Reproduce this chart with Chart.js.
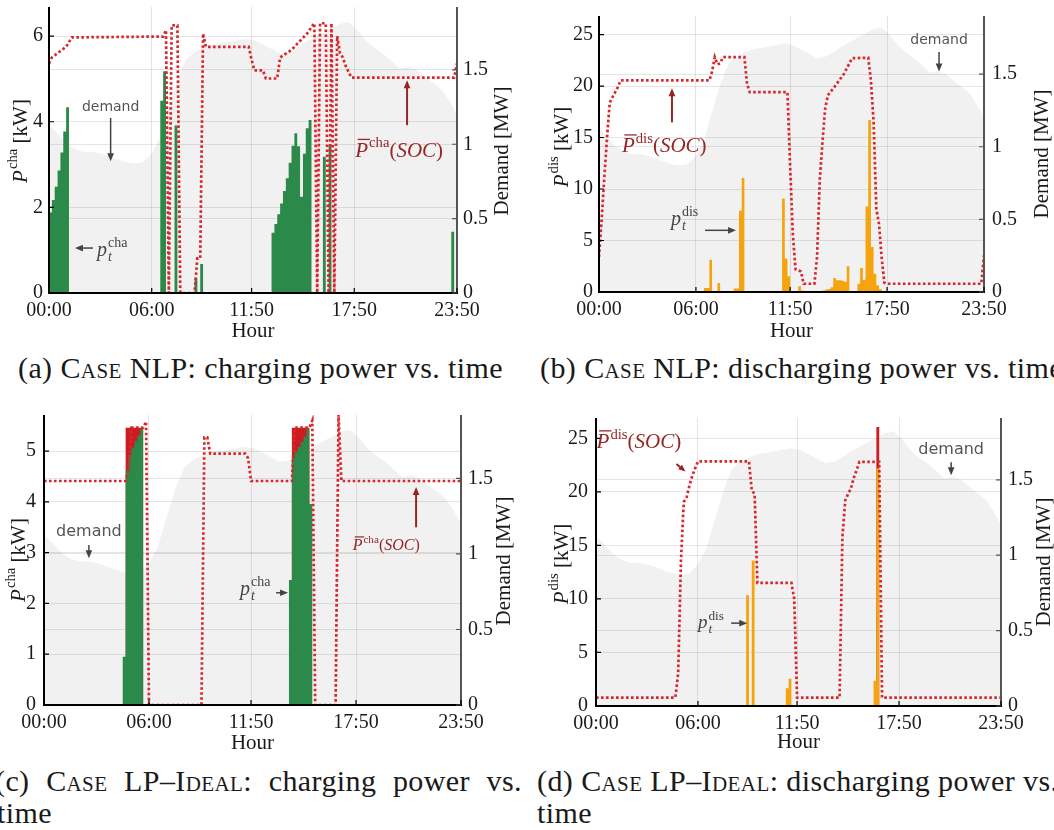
<!DOCTYPE html>
<html>
<head>
<meta charset="utf-8">
<title>Charging and discharging power vs. time</title>
<script src="https://cdn.jsdelivr.net/npm/chart.js@4.4.1/dist/chart.umd.min.js"></script>
<style>
  html, body { margin: 0; padding: 0; background: #fff; }
  body { position: relative; width: 1054px; height: 830px; overflow: hidden;
         font-family: "Liberation Serif", "Times New Roman", serif; color: #1a1a1a; }
  canvas { position: absolute; }
  .cap { position: absolute; font-size: 30px; line-height: 30px; white-space: nowrap; }
  .sc { font-variant: small-caps; }
  .just { text-align: justify; text-align-last: justify; white-space: normal; }
</style>
</head>
<body>
<canvas id="chartA" width="520" height="345" style="left:0;top:0"></canvas>
<canvas id="chartB" width="534" height="345" style="left:520px;top:0"></canvas>
<canvas id="chartC" width="520" height="360" style="left:0;top:400px"></canvas>
<canvas id="chartD" width="534" height="360" style="left:520px;top:400px"></canvas>

<div class="cap" id="capA" style="left:18px;top:353px">(a) <span class="sc">Case</span> NLP: charging power vs. time</div>
<div class="cap" style="left:540px;top:353px">(b) <span class="sc">Case</span> NLP: discharging power vs. time</div>
<div class="cap just" id="capC" style="left:-5px;top:766px;width:527px">(c) <span class="sc">Case</span> LP–<span class="sc">Ideal</span>: charging power vs.</div>
<div class="cap" style="left:-3px;top:798px">time</div>
<div class="cap" style="left:537px;top:766px">(d) <span class="sc">Case</span> LP–<span class="sc">Ideal</span>: discharging power vs.</div>
<div class="cap" style="left:537px;top:798px">time</div>

<script>
// ---------- shared axes (one step = 10 minutes, step 0 = 00:00) ----------
const hourTicks  = [0, 36, 71, 107, 143];
const hourLabels = ['00:00', '06:00', '11:50', '17:50', '23:50'];
const demandTicks  = [0, 0.5, 1, 1.5];
const demandLabels = ['0', '0.5', '1', '1.5'];
const chaTicksNLP = [0, 2, 4, 6];
const disTicks    = [0, 5, 10, 15, 20, 25];
const chaTicksLP  = [0, 1, 2, 3, 4, 5];

// grid demand [step, MW]
const demand = [[0,1.13],[3,1.07],[6,1.01],[9,0.97],[12,0.95],[15,0.95],[18,0.94],[21,0.92],
  [24,0.90],[27,0.88],[30,0.87],[33,0.88],[36,0.94],[39,1.05],[42,1.24],[45,1.43],[48,1.57],
  [51,1.62],[54,1.65],[57,1.67],[60,1.68],[63,1.69],[66,1.70],[69,1.71],[72,1.70],[75,1.67],
  [78,1.64],[81,1.61],[84,1.62],[87,1.65],[90,1.69],[93,1.72],[96,1.75],[99,1.78],[102,1.81],
  [105,1.82],[108,1.77],[111,1.70],[114,1.65],[117,1.61],[120,1.56],[123,1.51],[126,1.52],
  [129,1.50],[132,1.45],[135,1.41],[138,1.36],[141,1.27],[143,1.20]];

// power runs: [first step, consecutive kW values]; all other steps are zero
const chaNLP = [
  [0, [1.64, 1.88, 2.17, 2.48, 2.86, 3.28, 3.77, 4.34]],
  [40, [4.49, 5.18]],
  [45, [3.91]],
  [52, [0.34]],
  [54, [0.68]],
  [79, [1.41, 1.61, 1.84, 2.09, 2.38, 2.68, 3.04, 3.44, 3.73, 3.43, 2.25, 3.25, 3.85, 4.04]],
  [97, [3.18]],
  [99, [3.46]],
  [142, [1.43]]
];
// P̄cha(SOC) limit [step, kW]
const chaLimitNLP = [[0,5.36],[1,5.5],[6,5.75],[8,5.97],[40,5.99],[41,6.14],[42,0],[43,6.25],
  [45,6.25],[46,0],[51,0],[52,0.81],[53,0.81],[54,6.06],[55,5.75],[70,5.75],[71,5.45],[72,5.2],
  [75,5.2],[76,5.01],[80,5.01],[81,5.5],[85,5.68],[91,6.1],[92,6.22],[93,6.3],[94,0],[95,6.3],
  [97,6.3],[98,0],[99,6.3],[100,0],[101,6.0],[102,5.6],[103,5.5],[104,5.3],[106,5.03],
  [142,5.03],[143,5.36]];

const disNLP = [
  [4, [0.1, 0.1, 0.1, 0.1]],
  [40, [0.4, 0.4, 3.14]],
  [45, [0.87]],
  [51, [0.33, 0.33, 7.9, 11.07]],
  [69, [9.07, 3.24, 1.52]],
  [75, [0.55, 0.15]],
  [81, [0.05, 0.1, 0.1, 0.15, 0.25, 0.3, 0.45, 1.36, 1.14, 1.14, 1.1, 1.0, 2.5]],
  [97, [0.8, 2.33, 1.2, 8.3, 16.7, 4.37, 1.78, 0.65, 0.26]]
];
const disLimitNLP = [[0,3.4],[1,7.1],[2,11.2],[3,15.05],[4,18.4],[6,19.4],[7,19.9],[8,20.55],
  [41,20.55],[42,21.4],[43,22.8],[44,22.1],[45,22.2],[46,22.8],[54,22.8],[55,20.2],[56,19.4],
  [70,19.4],[71,12.1],[72,5.6],[73,2.2],[75,2.0],[76,0.8],[80,0.8],[81,3.4],[82,10.85],
  [83,14.6],[84,17.8],[85,19.1],[88,20.1],[91,21.2],[93,22.2],[94,22.7],[100,22.75],
  [101,20.55],[102,16.5],[103,8.1],[104,6.6],[105,3.3],[106,0.9],[107,0.8],[142,0.8],[143,3.56]];

const chaLP = [
  [28, [0.95, 4.62, 4.92, 5.07, 5.2, 5.31, 5.43]],
  [85, [2.46, 4.86, 4.99, 5.08, 5.18, 5.28, 5.43, 3.96]]
];
const chaCapLP = [
  [29, [5.46, 5.46, 5.46, 5.46, 5.46, 5.46]],
  [86, [5.46, 5.46, 5.46, 5.46, 5.46, 5.46]]
];
const chaLimitLP = [[0,4.41],[28,4.41],[29,4.63],[30,5.46],[34,5.46],[35,5.58],[36,0],[54,0],
  [55,5.27],[56,5.27],[57,4.95],[69,4.95],[70,4.86],[71,4.41],[85,4.41],[86,5.46],[91,5.46],
  [92,5.6],[93,0],[100,0],[101,5.72],[102,4.41],[143,4.41]];

const disLP = [
  [54, [10.35]],
  [56, [13.6]],
  [68, [1.65, 2.55]],
  [99, [2.35, 22.2]]
];
const disCapLP = [
  [100, [26.05]]
];
const disLimitLP = [[0,0.78],[28,0.78],[29,3.0],[30,13.6],[31,19.06],[32,19.5],[33,20.6],
  [34,21.5],[35,22.2],[36,22.85],[54,22.85],[55,20.15],[56,19.8],[57,11.5],[69,11.5],[70,10.0],
  [71,0.78],[86,0.78],[87,15.8],[88,19.2],[89,19.8],[90,20.3],[91,21.3],[92,22.0],[93,22.8],
  [100,22.8],[101,0.78],[143,0.78]];

// ---------- styling ----------
const SERIF = '"Liberation Serif", "Times New Roman", serif';
const SANS = '"DejaVu Sans", sans-serif';
const GREY = '#444';
const WINE = '#962626';
const GREEN = '#2b8a4a';
const ORANGE = '#f5a30f';
const LIMIT_RED = '#d9262c';
const CAP_RED = '#cc1c22';
const GRID = 'rgba(0,0,0,0.1)';

const steps = (runs) => {
  const y = new Array(144).fill(0);
  runs.forEach(([start, vals]) => vals.forEach((v, k) => { y[start + k] = v; }));
  return y.map((v, i) => ({ x: i, y: v }));
};
const pairs = (list) => list.map(([x, y]) => ({ x, y }));

// italic base letter with optional bar, superscript, subscript and trailing runs
function mathText(ctx, x, y, m, dry) {
  const s = m.size;
  const it = (px) => `italic ${px}px ${SERIF}`;
  const rm = (px) => `${px}px ${SERIF}`;
  ctx.textAlign = 'left';
  ctx.textBaseline = 'alphabetic';
  ctx.fillStyle = m.color || '#1a1a1a';
  let cx = x;
  ctx.font = it(s);
  const bw = ctx.measureText(m.base).width;
  if (!dry) {
    ctx.fillText(m.base, cx, y);
    if (m.bar) ctx.fillRect(cx + s * 0.12, y - s * 0.86, bw - s * 0.02, Math.max(1.2, s * 0.06));
  }
  cx += bw + s * 0.05;
  let adv = 0;
  if (m.sup) {
    ctx.font = rm(s * 0.7);
    if (!dry) ctx.fillText(m.sup, cx, y - s * 0.45);
    adv = ctx.measureText(m.sup).width;
  }
  if (m.sub) {
    ctx.font = it(s * 0.7);
    if (!dry) ctx.fillText(m.sub, cx, y + s * 0.25);
    adv = Math.max(adv, ctx.measureText(m.sub).width);
  }
  cx += adv;
  (m.tail || []).forEach(([txt, italic]) => {
    ctx.font = italic ? it(s) : rm(s);
    if (!dry) ctx.fillText(txt, cx, y);
    cx += ctx.measureText(txt).width;
  });
  return cx - x;
}

function arrow(ctx, x1, y1, x2, y2, color, lw, head) {
  const ang = Math.atan2(y2 - y1, x2 - x1);
  const c = Math.cos(ang), s = Math.sin(ang);
  ctx.strokeStyle = color;
  ctx.fillStyle = color;
  ctx.lineWidth = lw;
  ctx.beginPath();
  ctx.moveTo(x1, y1);
  ctx.lineTo(x2 - c * head * 0.8, y2 - s * head * 0.8);
  ctx.stroke();
  ctx.beginPath();
  ctx.moveTo(x2, y2);
  ctx.lineTo(x2 - head * c + head * 0.42 * s, y2 - head * s - head * 0.42 * c);
  ctx.lineTo(x2 - head * c - head * 0.42 * s, y2 - head * s + head * 0.42 * c);
  ctx.closePath();
  ctx.fill();
}

// spines, inward ticks, axis titles and the labels with arrows
const decorations = {
  id: 'decorations',
  afterDraw(chart, args, o) {
    const { ctx, chartArea: a } = chart;
    const sx = chart.scales.x, sy = chart.scales.y, sr = chart.scales.y1;
    const px = (v) => sx.getPixelForValue(v);
    const py = (v) => sy.getPixelForValue(v);
    ctx.save();

    ctx.fillStyle = '#555';
    ctx.fillRect(a.right - 1, a.top, 2, a.bottom - a.top);
    ctx.fillStyle = '#000';
    ctx.fillRect(a.left - 1, a.top, 2, a.bottom - a.top + 1);
    ctx.fillRect(a.left - 1, a.bottom - 1, a.right - a.left + 2, 2);

    ctx.lineWidth = 1.2;
    ctx.strokeStyle = '#000';
    ctx.beginPath();
    hourTicks.forEach((v) => { ctx.moveTo(px(v), a.bottom); ctx.lineTo(px(v), a.bottom - 5); });
    sy.ticks.forEach((t) => { ctx.moveTo(a.left, py(t.value)); ctx.lineTo(a.left + 5, py(t.value)); });
    ctx.stroke();
    ctx.strokeStyle = '#555';
    ctx.beginPath();
    sr.ticks.forEach((t) => {
      const yy = sr.getPixelForValue(t.value);
      ctx.moveTo(a.right, yy); ctx.lineTo(a.right - 5, yy);
    });
    ctx.stroke();

    // axis titles
    const lt = o.leftTitle;
    const w = mathText(ctx, 0, 0, lt.m, true);
    ctx.save();
    ctx.translate(lt.cx, lt.cy);
    ctx.rotate(-Math.PI / 2);
    mathText(ctx, -w / 2, lt.m.size * 0.33, lt.m);
    ctx.restore();

    ctx.save();
    ctx.translate(o.rightTitle.cx, o.rightTitle.cy);
    ctx.rotate(-Math.PI / 2);
    ctx.font = `21px ${SERIF}`;
    ctx.fillStyle = '#1a1a1a';
    ctx.textAlign = 'center';
    ctx.textBaseline = 'alphabetic';
    ctx.fillText('Demand [MW]', 0, 7);
    ctx.restore();

    ctx.font = `21px ${SERIF}`;
    ctx.fillStyle = '#1a1a1a';
    ctx.textAlign = 'center';
    ctx.textBaseline = 'alphabetic';
    ctx.fillText('Hour', (a.left + a.right) / 2, o.hourY);

    // labels pointing at the series
    o.notes.forEach((n) => {
      if (n.kind === 'word') {
        ctx.font = `${n.size}px ${SANS}`;
        ctx.fillStyle = '#555';
        ctx.textAlign = 'center';
        ctx.textBaseline = 'middle';
        ctx.fillText(n.text, px(n.at[0]), py(n.at[1]));
      } else if (n.kind === 'math') {
        mathText(ctx, px(n.at[0]), py(n.at[1]), n.m);
      } else if (n.kind === 'arrow') {
        arrow(ctx, px(n.from[0]), py(n.from[1]), px(n.to[0]), py(n.to[1]),
              n.color, n.lw || 1.5, n.head || 8);
      }
    });
    ctx.restore();
  }
};

function buildPanel(id, p) {
  const tickFont = { family: SERIF, size: 20 };
  const datasets = [
    { label: 'limit', data: pairs(p.limit), borderColor: LIMIT_RED, borderWidth: 2.7,
      borderDash: [2.6, 2.4], pointRadius: 0, fill: false, tension: 0, yAxisID: 'y', order: 0 },
    { label: 'power', data: steps(p.power), stepped: 'after', borderWidth: 0,
      borderColor: 'rgba(0,0,0,0)', backgroundColor: p.color, pointRadius: 0,
      fill: 'origin', yAxisID: 'y', order: 1 }
  ];
  if (p.cap) {
    datasets.push({ label: 'cap', data: steps(p.cap), stepped: 'after', borderWidth: 0,
      borderColor: 'rgba(0,0,0,0)', backgroundColor: CAP_RED, pointRadius: 0,
      fill: 'origin', yAxisID: 'y', order: 2 });
  }
  datasets.push({ label: 'demand', data: pairs(demand), borderWidth: 0,
    borderColor: 'rgba(0,0,0,0)', backgroundColor: 'rgba(0,0,0,0.055)', pointRadius: 0,
    fill: 'origin', tension: 0, yAxisID: 'y1', order: 3 });

  return new Chart(document.getElementById(id), {
    type: 'line',
    data: { datasets },
    plugins: [decorations],
    options: {
      responsive: false,
      animation: false,
      events: [],
      layout: { padding: { top: p.box.top, left: 0, right: 0, bottom: 0 } },
      plugins: {
        legend: { display: false },
        tooltip: { enabled: false },
        decorations: { leftTitle: p.leftTitle, rightTitle: p.rightTitle, hourY: p.hourY, notes: p.notes }
      },
      scales: {
        x: {
          type: 'linear', min: 0, max: 143,
          afterBuildTicks: (ax) => { ax.ticks = hourTicks.map((v) => ({ value: v })); },
          afterFit: (s) => { s.height = p.box.xH; s.paddingLeft = 0; s.paddingRight = 0; },
          ticks: { callback: (v) => hourLabels[hourTicks.indexOf(v)], font: tickFont,
                   color: '#1a1a1a', maxRotation: 0, autoSkip: false, padding: p.box.xPad },
          grid: { color: GRID, drawTicks: false },
          border: { display: false }
        },
        y: {
          position: 'left', min: 0, max: p.yMax,
          afterBuildTicks: (ax) => { ax.ticks = p.yTicks.map((v) => ({ value: v })); },
          afterFit: (s) => { s.width = p.box.yW; s.paddingTop = 0; s.paddingBottom = 0; },
          ticks: { callback: (v) => String(v), font: tickFont, color: '#1a1a1a', padding: p.box.yPad },
          grid: { color: GRID, drawTicks: false },
          border: { display: false }
        },
        y1: {
          position: 'right', min: 0, max: p.y1Max,
          afterBuildTicks: (ax) => { ax.ticks = demandTicks.map((v) => ({ value: v })); },
          afterFit: (s) => { s.width = p.box.y1W; s.paddingTop = 0; s.paddingBottom = 0; },
          ticks: { callback: (v) => demandLabels[demandTicks.indexOf(v)], font: tickFont,
                   color: '#1a1a1a', padding: p.box.y1Pad },
          grid: { color: GRID, drawTicks: false, drawOnChartArea: true },
          border: { display: false }
        }
      }
    }
  });
}

const barP = (sup, size) => ({ base: 'P', bar: true, sup, size, color: WINE,
  tail: [['(', 0], ['SOC', 1], [')', 0]] });
const smallP = (sup, size) => ({ base: 'p', sup, sub: 't', size, color: GREY });
const axisP = (sup) => ({ base: 'P', sup, size: 21, tail: [[' [kW]', 0]] });

function drawAll() {
  buildPanel('chartA', {
    power: chaNLP, limit: chaLimitNLP, color: GREEN,
    yMax: 6.68, y1Max: 1.923, yTicks: chaTicksNLP,
    box: { yW: 49, y1W: 63, top: 7, xH: 52, xPad: 6, yPad: 6, y1Pad: 6 },
    leftTitle: { cx: 20, cy: 141, m: axisP('cha') },
    rightTitle: { cx: 501, cy: 151 },
    hourY: 337,
    notes: [
      { kind: 'word', text: 'demand', at: [21.6, 4.34], size: 14 },
      { kind: 'arrow', from: [21.6, 4.09], to: [21.6, 3.08], color: GREY },
      { kind: 'math', at: [16.8, 0.86], m: smallP('cha', 20) },
      { kind: 'arrow', from: [15.4, 1.05], to: [9.1, 1.05], color: GREY },
      { kind: 'math', at: [107.3, 3.18], m: barP('cha', 21) },
      { kind: 'arrow', from: [125.5, 3.92], to: [125.5, 4.97], color: WINE, lw: 2 }
    ]
  });

  buildPanel('chartB', {
    power: disNLP, limit: disLimitNLP, color: ORANGE,
    yMax: 26.8, y1Max: 1.90, yTicks: disTicks,
    box: { yW: 79, y1W: 70, top: 16, xH: 53, xPad: 6, yPad: 6, y1Pad: 8 },
    leftTitle: { cx: 41, cy: 147, m: axisP('dis') },
    rightTitle: { cx: 521, cy: 154 },
    hourY: 337,
    notes: [
      { kind: 'math', at: [8.5, 13.56], m: barP('dis', 21) },
      { kind: 'arrow', from: [27.1, 16.47], to: [27.1, 19.78], color: WINE, lw: 2 },
      { kind: 'math', at: [26.7, 6.5], m: smallP('dis', 20) },
      { kind: 'arrow', from: [39.4, 5.99], to: [50.9, 5.99], color: GREY },
      { kind: 'word', text: 'demand', at: [126.3, 24.4], size: 14 },
      { kind: 'arrow', from: [126.3, 23.3], to: [126.3, 21.4], color: GREY }
    ]
  });

  buildPanel('chartC', {
    power: chaLP, cap: chaCapLP, limit: chaLimitLP, color: GREEN,
    yMax: 5.71, y1Max: 1.92, yTicks: chaTicksLP,
    box: { yW: 44, y1W: 59, top: 15, xH: 55, xPad: 6, yPad: 8, y1Pad: 7 },
    leftTitle: { cx: 18, cy: 160, m: axisP('cha') },
    rightTitle: { cx: 503, cy: 161 },
    hourY: 349,
    notes: [
      { kind: 'word', text: 'demand', at: [15.4, 3.41], size: 16 },
      { kind: 'arrow', from: [15.4, 3.15], to: [15.4, 2.89], color: GREY },
      { kind: 'math', at: [67.2, 2.17], m: smallP('cha', 20) },
      { kind: 'arrow', from: [79.6, 2.21], to: [83.7, 2.21], color: GREY },
      { kind: 'math', at: [105.9, 3.05], m: barP('cha', 16) },
      { kind: 'arrow', from: [127.6, 3.5], to: [127.6, 4.29], color: WINE, lw: 2 }
    ]
  });

  buildPanel('chartD', {
    power: disLP, cap: disCapLP, limit: disLimitLP, color: ORANGE,
    yMax: 26.9, y1Max: 1.91, yTicks: disTicks,
    box: { yW: 76, y1W: 53, top: 18, xH: 54, xPad: 6, yPad: 8, y1Pad: 7 },
    leftTitle: { cx: 41, cy: 164, m: axisP('dis') },
    rightTitle: { cx: 523, cy: 162 },
    hourY: 348,
    notes: [
      { kind: 'math', at: [0.2, 24.07], m: barP('dis', 21) },
      { kind: 'arrow', from: [28.4, 22.6], to: [31.6, 21.9], color: WINE, lw: 2, head: 7 },
      { kind: 'math', at: [36, 7.28], m: smallP('dis', 19) },
      { kind: 'arrow', from: [47.7, 7.74], to: [53.4, 7.74], color: GREY },
      { kind: 'word', text: 'demand', at: [125.4, 23.97], size: 16 },
      { kind: 'arrow', from: [125.4, 22.76], to: [125.4, 21.55], color: GREY }
    ]
  });

  // caption letters spaced so line (a) spans its printed width
  const capA = document.getElementById('capA');
  const text = capA.textContent;
  const spacing = (485 - capA.getBoundingClientRect().width) / text.length;
  document.querySelectorAll('.cap').forEach((el) => { el.style.letterSpacing = spacing + 'px'; });
}

if (document.fonts && document.fonts.ready) {
  document.fonts.ready.then(drawAll);
} else {
  drawAll();
}
</script>
</body>
</html>
